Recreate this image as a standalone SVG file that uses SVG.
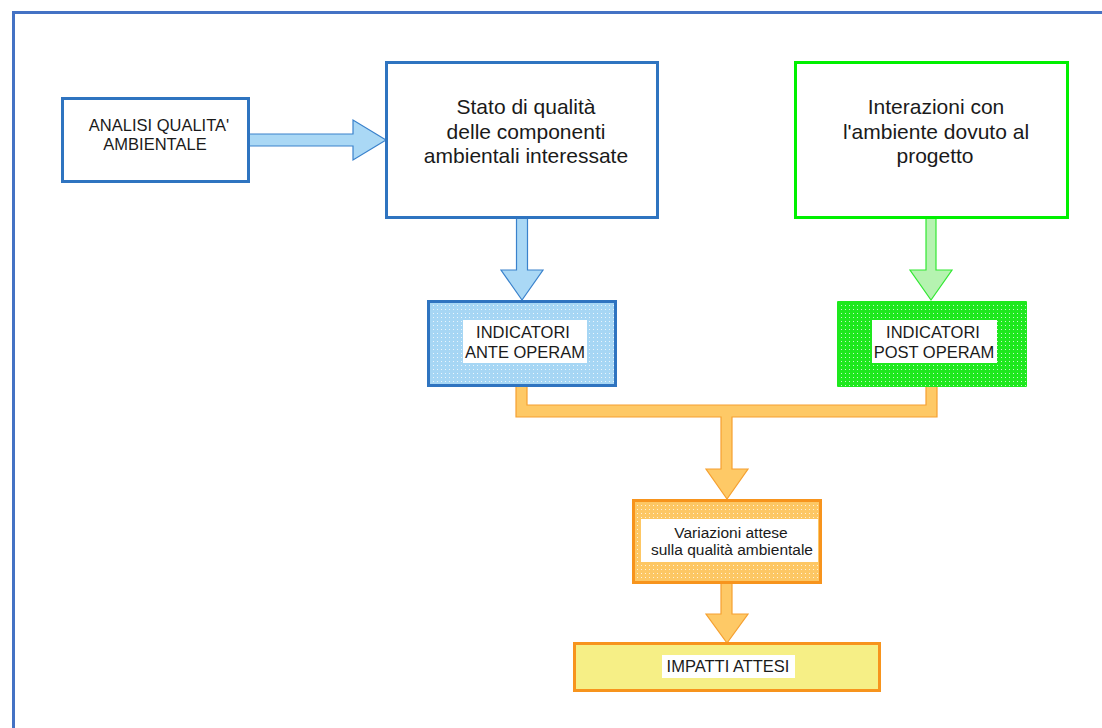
<svg xmlns="http://www.w3.org/2000/svg" width="1102" height="728" viewBox="0 0 1102 728">
<style>
.t{font-family:"Liberation Sans",Arial,sans-serif;fill:#1a1a1a;text-anchor:middle}
.s{font-size:16.5px}.m{font-size:15.5px}.b{font-size:21px}
.blue{stroke:#2f74c0;stroke-width:3}
.green{stroke:#00f000;stroke-width:3}
.orange{stroke:#f7941d;stroke-width:3}
.arB{fill:#aad8f5;stroke:#3a82cc;stroke-width:1.2}
.arG{fill:#b5f3b0;stroke:#33e833;stroke-width:1.2}
.arO{fill:#fec966;stroke:#f5a030;stroke-width:1.2}
</style>
<defs>
<pattern id="dots" width="4" height="4" patternUnits="userSpaceOnUse">
<rect x="1" y="1" width="1" height="1" fill="#fff" fill-opacity="0.75"/>
</pattern>
</defs>
<rect width="1102" height="728" fill="#fff"/>
<path d="M13.5,728 V12.5 H1102" fill="none" stroke="#4472c4" stroke-width="3"/>
<g id="connectors">
<path class="arB" d="M249,134 H353 V120 L386,140 L353,160 V146 H249 Z"/>
<path class="arB" d="M516.5,218 H527.5 V270 H543 L522,300 L501,270 H516.5 Z"/>
<path class="arG" d="M926,218 H936 V270 H952 L931,300 L910,270 H926 Z"/>
<path class="arO" d="M516,386 H527 V405 H926 V386 H937 V417 H732 V469 H748 L727,499 L706,469 H721 V417 H516 Z"/>
<path class="arO" d="M721,583 H732 V614 H748 L727,643 L706,614 H721 Z"/>
</g>
<g id="analisi">
<rect class="blue" x="62.5" y="98.5" width="186" height="83" fill="#fff"/>
<text class="t s" x="159" y="131">ANALISI QUALITA'</text>
<text class="t s" x="155" y="150">AMBIENTALE</text>
</g>
<g id="stato">
<rect class="blue" x="386.5" y="62.5" width="271" height="155" fill="#fff"/>
<text class="t b" x="526" y="114">Stato di qualità</text>
<text class="t b" x="526" y="139">delle componenti</text>
<text class="t b" x="526" y="163">ambientali interessate</text>
</g>
<g id="interazioni">
<rect class="green" x="795.5" y="62.5" width="272" height="155" fill="#fff"/>
<text class="t b" x="936" y="114">Interazioni con</text>
<text class="t b" x="936" y="139">l'ambiente dovuto al</text>
<text class="t b" x="935" y="163">progetto</text>
</g>
<g id="ante">
<rect class="blue" x="428.5" y="301.5" width="187" height="84" fill="#a6d6f4"/>
<rect x="430" y="303" width="184" height="81" fill="url(#dots)"/>
<rect x="463" y="320" width="124" height="43" fill="#fff"/>
<text class="t s" x="523" y="338">INDICATORI</text>
<text class="t s" x="525" y="358">ANTE OPERAM</text>
</g>
<g id="post">
<rect x="837" y="301" width="190" height="86" rx="1" fill="#1ee81e"/>
<rect x="838" y="302" width="188" height="84" fill="url(#dots)"/>
<rect x="872" y="320" width="125" height="43" fill="#fff"/>
<text class="t s" x="933" y="338">INDICATORI</text>
<text class="t s" x="934" y="358">POST OPERAM</text>
</g>
<g id="variazioni">
<rect class="orange" x="633.5" y="500.5" width="187" height="82" fill="#fdc764"/>
<rect x="635" y="502" width="184" height="79" fill="url(#dots)"/>
<rect x="641" y="519" width="177" height="43" fill="#fff"/>
<text class="t m" x="731" y="538">Variazioni attese</text>
<text class="t m" x="732" y="555">sulla qualità ambientale</text>
</g>
<g id="impatti">
<rect class="orange" x="574.5" y="643.5" width="305" height="47" fill="#f6ef86"/>
<rect x="662" y="655" width="133" height="23" fill="#fff"/>
<text class="t s" x="728" y="672">IMPATTI ATTESI</text>
</g>
</svg>
